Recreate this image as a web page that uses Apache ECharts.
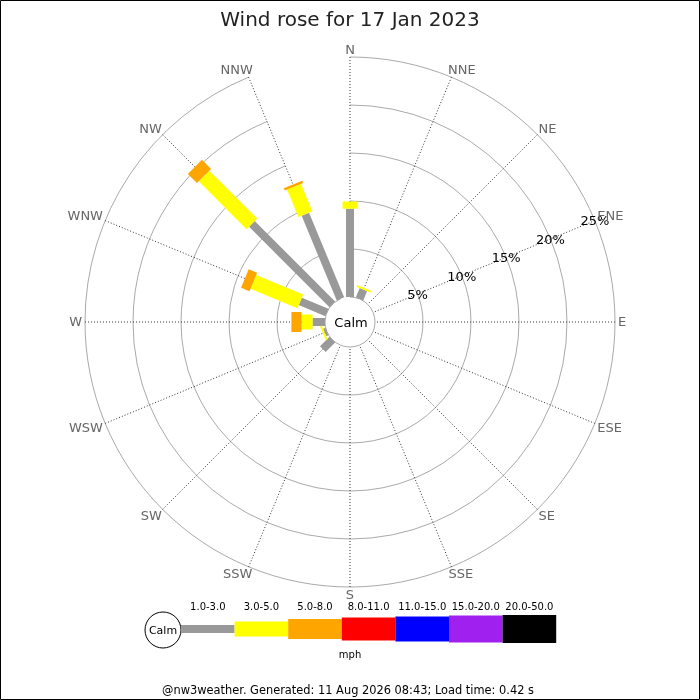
<!DOCTYPE html>
<html><head><meta charset="utf-8">
<script src="https://cdn.jsdelivr.net/npm/echarts@6/dist/echarts.min.js"></script>
<style>html,body{margin:0;padding:0;background:#fff}#c{width:700px;height:700px}</style>
</head><body><div id="c"></div>
<script>
// ---- data ----
const directions = ['N','NNE','NE','ENE','E','ESE','SE','SSE','S','SSW','SW','WSW','W','WNW','NW','NNW'];
const speedClasses = ['1.0-3.0','3.0-5.0','5.0-8.0','8.0-11.0','11.0-15.0','15.0-20.0','20.0-50.0'];
const pct_1_3   = [9.2, 1.05, 0, 0, 0, 0, 0, 0, 0, 0, 1.4, 0.25, 1.3, 3.0, 11.85, 9.55];
const pct_3_5   = [0.75, 0.2, 0, 0, 0, 0, 0, 0, 0, 0, 0, 0.2, 1.15, 5.3, 7.05, 3.1];
const pct_5_8   = [0, 0, 0, 0, 0, 0, 0, 0, 0, 0, 0, 0, 1.05, 0.95, 1.35, 0.25];
const pct_8_11  = [0, 0, 0, 0, 0, 0, 0, 0, 0, 0, 0, 0, 0, 0, 0, 0];
const pct_11_15 = [0, 0, 0, 0, 0, 0, 0, 0, 0, 0, 0, 0, 0, 0, 0, 0];
const pct_15_20 = [0, 0, 0, 0, 0, 0, 0, 0, 0, 0, 0, 0, 0, 0, 0, 0];
const pct_20_50 = [0, 0, 0, 0, 0, 0, 0, 0, 0, 0, 0, 0, 0, 0, 0, 0];
const ringTicks = [5, 10, 15, 20, 25];
const ringLabelDirection = 'ENE';
const unitLabel = 'mph';
const calmLabel = 'Calm';
const titleText = 'Wind rose for 17 Jan 2023';
const footerText = '@nw3weather. Generated: 11 Aug 2026 08:43; Load time: 0.42 s';

// ---- styles ----
const classColors = ['#999999','#ffff00','#ffa500','#ff0000','#0000ff','#a020f0','#000000'];
const classWidths = [8, 15, 20, 23, 25, 27, 28];
const FONT = 'DejaVu Sans, sans-serif';
const RMAX = ringTicks[ringTicks.length - 1];

const classData = [pct_1_3, pct_3_5, pct_5_8, pct_8_11, pct_11_15, pct_15_20, pct_20_50];

const measureCtx = document.createElement('canvas').getContext('2d');
function textWidth(t, font) { measureCtx.font = font; return measureCtx.measureText(t).width; }

// cumulative stacking
const cum = directions.map(() => 0);
const barSeries = classData.map((arr, k) => {
  const data = [];
  arr.forEach((v, i) => {
    const start = cum[i];
    cum[i] += v;
    if (v > 0) data.push([cum[i], directions[i], start]);
  });
  const w = classWidths[k], color = classColors[k];
  return {
    type: 'custom',
    name: speedClasses[k],
    coordinateSystem: 'polar',
    encode: { radius: 0, angle: 1 },
    data: data,
    z: 3 + k,
    silent: true,
    renderItem: function (params, api) {
      const end = api.value(0), dir = api.value(1), start = api.value(2);
      const p0 = api.coord([start, dir]);
      const p1 = api.coord([end, dir]);
      const cs = params.coordSys;
      let ux = p1[0] - cs.cx, uy = p1[1] - cs.cy;
      const L = Math.hypot(ux, uy) || 1; ux /= L; uy /= L;
      const nx = -uy * w / 2, ny = ux * w / 2;
      return {
        type: 'polygon',
        shape: { points: [[p0[0]+nx, p0[1]+ny], [p1[0]+nx, p1[1]+ny], [p1[0]-nx, p1[1]-ny], [p0[0]-nx, p0[1]-ny]] },
        style: { fill: color }
      };
    }
  };
});

const ringLabelSeries = {
  type: 'custom',
  coordinateSystem: 'polar',
  encode: { radius: 0, angle: 1 },
  data: ringTicks.map(v => [v, ringLabelDirection]),
  z: 20,
  silent: true,
  renderItem: function (params, api) {
    const p = api.coord([api.value(0), api.value(1)]);
    return {
      type: 'text', x: p[0], y: p[1] + 1.5,
      style: { text: api.value(0) + '%', fill: '#000', font: '13px ' + FONT, align: 'center', verticalAlign: 'middle' }
    };
  }
};

// direction labels placed just outside the outer ring
const dirFont = '13px ' + FONT;
const dirLabelSeries = {
  type: 'custom',
  coordinateSystem: 'polar',
  encode: { radius: 0, angle: 1 },
  data: directions.map(d => [RMAX, d]),
  z: 20,
  silent: true,
  renderItem: function (params, api) {
    const idx = params.dataIndex;
    const name = directions[idx];
    const p = api.coord([api.value(0), api.value(1)]);
    const cs = params.coordSys;
    let ux = p[0] - cs.cx, uy = p[1] - cs.cy;
    const R = Math.hypot(ux, uy) || 1; ux /= R; uy /= R;
    const tw = textWidth(name, dirFont);
    const sx = Math.sign(ux) * Math.sqrt(Math.abs(ux));
    const sy = Math.sign(uy) * Math.sqrt(Math.abs(uy));
    const dx = sx * (3 + tw / 2);
    const dy = sy * 7.5;
    return {
      type: 'text', x: p[0] + dx, y: p[1] + dy + 1,
      style: { text: name, fill: '#666', font: dirFont, align: 'center', verticalAlign: 'middle' }
    };
  }
};

// legend graphics
const legendGraphics = [];
const lgX0 = 181, lgSeg = 53.6, lgY = 629;
const lgFont = '10px ' + FONT;
legendGraphics.push({ type: 'circle', shape: { cx: 163, cy: 630, r: 18 }, style: { fill: '#fff', stroke: '#000', lineWidth: 1 } });
legendGraphics.push({ type: 'text', x: 163, y: 631, style: { text: calmLabel, fill: '#000', font: '11px ' + FONT, align: 'center', verticalAlign: 'middle' } });
speedClasses.forEach((lab, k) => {
  const h = classWidths[k];
  legendGraphics.push({ type: 'rect', shape: { x: lgX0 + k * lgSeg, y: lgY - h / 2, width: lgSeg, height: h }, style: { fill: classColors[k] } });
  legendGraphics.push({ type: 'text', x: lgX0 + k * lgSeg + lgSeg / 2, y: 607, style: { text: lab, fill: '#000', font: lgFont, align: 'center', verticalAlign: 'middle' } });
});
legendGraphics.push({ type: 'text', x: 350, y: 655, style: { text: unitLabel, fill: '#000', font: lgFont, align: 'center', verticalAlign: 'middle' } });
legendGraphics.push({ type: 'text', x: 348, y: 691, style: { text: footerText, fill: '#000', font: '11.4px ' + FONT, align: 'center', verticalAlign: 'middle' } });
legendGraphics.push({ type: 'text', x: 351, y: 323.5, z: 50, style: { text: calmLabel, fill: '#000', font: '13px ' + FONT, align: 'center', verticalAlign: 'middle' } });
legendGraphics.push({ type: 'rect', shape: { x: 0.5, y: 0.5, width: 699, height: 699 }, style: { fill: 'none', stroke: '#000', lineWidth: 1 } });

const chart = echarts.init(document.getElementById('c'), null, { renderer: 'canvas' });
chart.setOption({
  backgroundColor: '#fff',
  animation: false,
  title: {
    text: titleText, left: 'center', top: 6,
    textStyle: { fontSize: 20, fontWeight: 'normal', color: '#222', fontFamily: FONT }
  },
  polar: { center: [350, 322], radius: [25, 265] },
  angleAxis: {
    type: 'category', data: directions, boundaryGap: false,
    startAngle: 90, clockwise: true,
    axisLine: { show: false }, axisTick: { show: false },
    axisLabel: { show: false },
    splitLine: { show: true, lineStyle: { color: '#333', width: 1, type: [1, 2] } }
  },
  radiusAxis: {
    type: 'value', min: 0, max: RMAX, interval: 5,
    axisLine: { show: false }, axisTick: { show: false }, axisLabel: { show: false },
    splitLine: { show: true, lineStyle: { color: '#aaaaaa', width: 1 } }
  },
  series: barSeries.concat([ringLabelSeries, dirLabelSeries]),
  graphic: legendGraphics
});
</script></body></html>
